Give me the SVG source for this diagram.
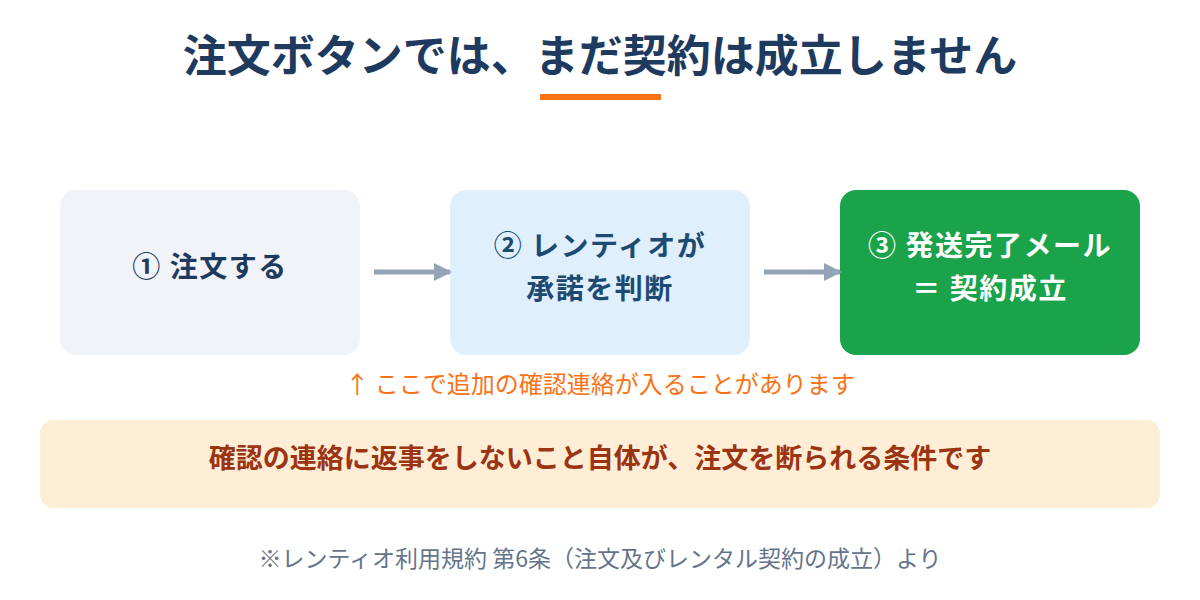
<svg xmlns="http://www.w3.org/2000/svg" width="1200" height="600" viewBox="0 0 1200 600">
<style>
text{font-family:"Noto Sans CJK JP","Noto Sans",sans-serif;text-anchor:middle}
.title{font-size:44px;font-weight:700;fill:#1e3a5f}
.node{font-size:28px;font-weight:700;letter-spacing:1.5px}
.conn{stroke:#94a3b8;stroke-width:5;fill:none}
</style>
<defs>
<marker id="ah" viewBox="0 0 10 10" refX="9" refY="5" markerWidth="3.6" markerHeight="6" orient="auto" markerUnits="strokeWidth">
<path d="M0,0 L10,5 L0,10 Z" fill="#94a3b8"/>
</marker>
</defs>
<rect width="1200" height="600" fill="#ffffff"/>
<g id="title">
<text class="title" x="600" y="72">注文ボタンでは、まだ契約は成立しません</text>
<rect x="540" y="94" width="121" height="6" fill="#f97316"/>
</g>
<g id="node1">
<rect x="60" y="190" width="300" height="165" rx="16" fill="#f0f4f9"/>
<text class="node" x="210" y="277" fill="#1e3a5f">① 注文する</text>
</g>
<g id="node2">
<rect x="450" y="190" width="300" height="165" rx="16" fill="#dff0fc"/>
<text class="node" x="600" y="256" fill="#1c4a72">② レンティオが</text>
<text class="node" x="600" y="299" fill="#1c4a72">承諾を判断</text>
</g>
<g id="node3">
<rect x="840" y="190" width="300" height="165" rx="16" fill="#1aa34a"/>
<text class="node" x="990" y="256" fill="#ffffff">③ 発送完了メール</text>
<text class="node" x="990" y="299" fill="#ffffff">＝ 契約成立</text>
</g>
<g id="connectors">
<line class="conn" x1="374" y1="272" x2="450" y2="272" marker-end="url(#ah)"/>
<line class="conn" x1="764" y1="272" x2="840" y2="272" marker-end="url(#ah)"/>
</g>
<g id="note">
<text x="600" y="393" font-size="24" fill="#f97316">↑ ここで追加の確認連絡が入ることがあります</text>
</g>
<g id="condition">
<rect x="40" y="420" width="1120" height="88" rx="14" fill="#ffedd5"/>
<text x="600" y="468" font-size="27" font-weight="700" fill="#9a3412">確認の連絡に返事をしないこと自体が、注文を断られる条件です</text>
</g>
<g id="footer">
<text x="600" y="567" font-size="23" fill="#64748b">※レンティオ利用規約 第6条（注文及びレンタル契約の成立）より</text>
</g>
</svg>
